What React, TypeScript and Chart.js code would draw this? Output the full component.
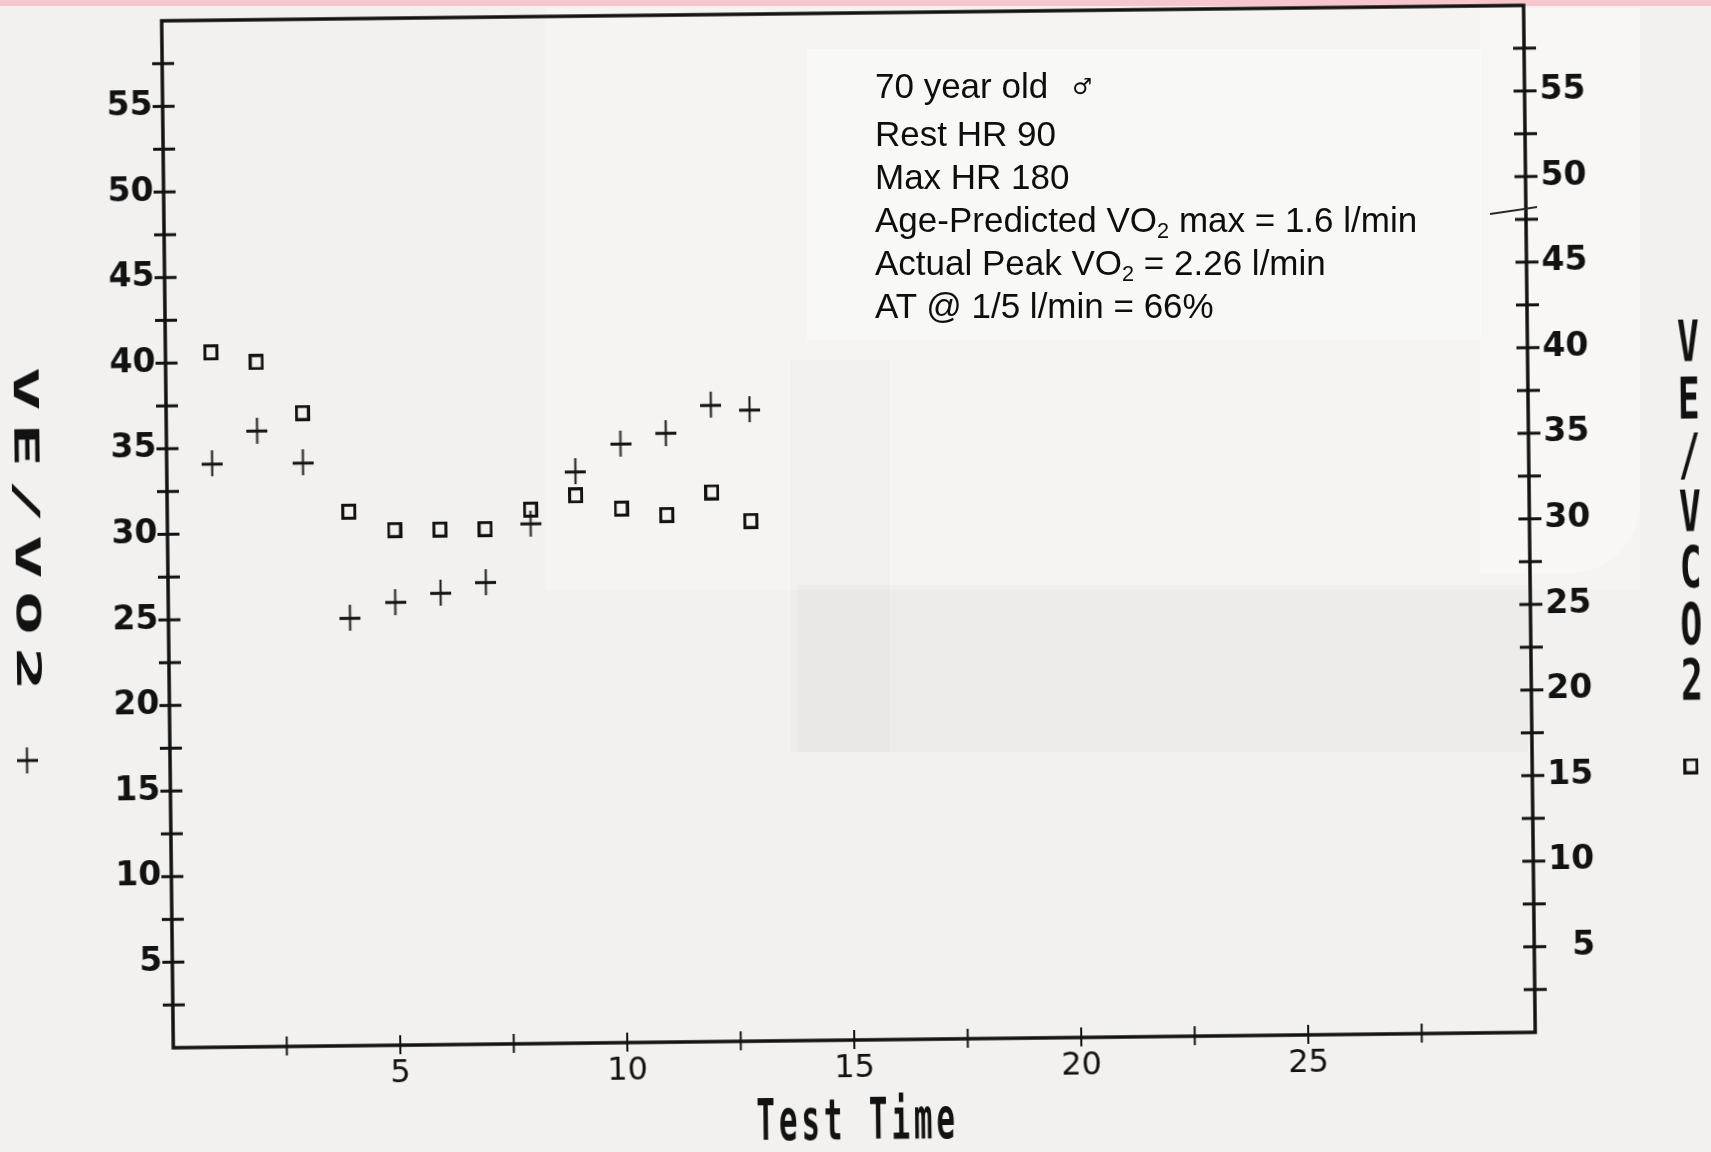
import React, { useEffect, useRef } from 'react';
import { Chart, registerables } from 'chart.js';

Chart.register(...registerables);

// Exercise test: ventilatory equivalents against test time (minutes)
const testTime = [1, 2, 3, 4, 5, 6, 7, 8, 9, 10, 11, 12, 12.85];
const veVo2 = [34.1, 36.0, 34.1, 25.0, 25.9, 26.4, 27.0, 30.4, 33.4, 35.0, 35.6, 37.2, 36.9];
const veVco2 = [40.6, 40.0, 37.0, 31.2, 30.1, 30.1, 30.1, 31.2, 32.0, 31.2, 30.8, 32.1, 30.4];

const xLabeledTicks = [5, 10, 15, 20, 25];
const yLabeledTicks = [5, 10, 15, 20, 25, 30, 35, 40, 45, 50, 55];
const X_RANGE = [0, 30];
const Y_RANGE = [0, 60];
const TICK_STEP = 2.5;

const leftTitle = 'VE/VO2';
const rightTitle = 'VE/VCO2';
const xTitle = 'Test Time';

type Seg = { t: string; sub?: boolean };
const noteLines: Seg[][] = [
  [{ t: '70 year old' }],
  [{ t: 'Rest HR 90' }],
  [{ t: 'Max HR 180' }],
  [{ t: 'Age-Predicted VO' }, { t: '2', sub: true }, { t: ' max = 1.6 l/min' }],
  [{ t: 'Actual Peak VO' }, { t: '2', sub: true }, { t: ' = 2.26 l/min' }],
  [{ t: 'AT @ 1/5 l/min = 66%' }],
];

const INK = '#121212';
const PAPER = '#f2f1ef';
const MONO = '"DejaVu Sans Mono", "Liberation Mono", monospace';

function plusMarker(): HTMLCanvasElement {
  const c = document.createElement('canvas');
  c.width = 21;
  c.height = 26;
  const g = c.getContext('2d')!;
  g.fillStyle = INK;
  g.fillRect(0, 12, 21, 3);
  g.fillRect(9.5, 0, 2, 26);
  return c;
}

function squareMarker(): HTMLCanvasElement {
  const c = document.createElement('canvas');
  c.width = 15;
  c.height = 16;
  const g = c.getContext('2d')!;
  g.strokeStyle = INK;
  g.lineWidth = 3;
  g.strokeRect(1.5, 1.5, 12, 13);
  return c;
}

// one printer glyph stretched into a w x h box centred on (x, y)
function glyph(ctx: CanvasRenderingContext2D, ch: string, x: number, y: number, w: number, h: number, weight = 'bold') {
  if (ch === ' ') return;
  const f = 40;
  ctx.save();
  ctx.font = `${weight} ${f}px ${MONO}`;
  ctx.textAlign = 'center';
  ctx.textBaseline = 'alphabetic';
  ctx.fillStyle = INK;
  ctx.translate(x, y + h / 2);
  ctx.scale(w / (0.55 * f), h / (0.73 * f));
  ctx.fillText(ch, 0, 0);
  ctx.restore();
}

const printerFrame = {
  id: 'printerFrame',
  afterDraw(chart: any) {
    const { ctx, chartArea: a, scales } = chart;
    ctx.save();
    ctx.strokeStyle = INK;
    ctx.lineWidth = 3.5;
    ctx.strokeRect(a.left, a.top, a.right - a.left, a.bottom - a.top);

    const seg = (x1: number, y1: number, x2: number, y2: number) => {
      ctx.beginPath();
      ctx.moveTo(x1, y1);
      ctx.lineTo(x2, y2);
      ctx.stroke();
    };
    ctx.lineWidth = 3;
    for (const t of scales.y.ticks) {
      if (t.value <= Y_RANGE[0] || t.value >= Y_RANGE[1]) continue;
      const py = scales.y.getPixelForValue(t.value);
      seg(a.left - 10, py, a.left + 12, py);
    }
    for (const t of scales.y2.ticks) {
      if (t.value <= Y_RANGE[0] || t.value >= Y_RANGE[1]) continue;
      const py = scales.y2.getPixelForValue(t.value);
      seg(a.right - 11, py, a.right + 12, py);
    }
    ctx.lineWidth = 2;
    for (const t of scales.x.ticks) {
      if (t.value <= X_RANGE[0] || t.value >= X_RANGE[1]) continue;
      const px = scales.x.getPixelForValue(t.value);
      seg(px, a.bottom - 10, px, a.bottom + 9);
    }

    // left title, printed sideways
    ctx.save();
    ctx.translate(27.5, 519.6);
    ctx.rotate(Math.PI / 2);
    const nl = leftTitle.length;
    for (let i = 0; i < nl; i++) glyph(ctx, leftTitle[i], (i - (nl - 1) / 2) * 56, 0, 40, 24);
    ctx.restore();

    // right title, stacked letters
    const nr = rightTitle.length;
    for (let i = 0; i < nr; i++) glyph(ctx, rightTitle[i], 1690.7, 519.5 + (i - (nr - 1) / 2) * 56.5, 20, 42);

    // x title
    const nx = xTitle.length;
    for (let i = 0; i < nx; i++) glyph(ctx, xTitle[i], 849.5 + (i - (nx - 1) / 2) * 22.5, 1118, 17, 42);

    // series keys
    const p = chart.data.datasets[0].pointStyle as HTMLCanvasElement;
    const s = chart.data.datasets[1].pointStyle as HTMLCanvasElement;
    ctx.drawImage(p, 25 - p.width / 2, 750.6 - p.height / 2);
    ctx.drawImage(s, 1688.8 - s.width / 2, 775.5 - s.height / 2);
    ctx.restore();
  },
};

const tapes: { l: number; t: number; w: number; h: number; bg: string; r?: string }[] = [
  { l: 546, t: 8, w: 1094, h: 582, bg: 'rgba(255,255,255,0.22)' },
  { l: 1480, t: 8, w: 160, h: 565, bg: 'rgba(255,255,255,0.28)', r: '0 0 70px 0' },
  { l: 797, t: 585, w: 731, h: 167, bg: 'rgba(0,0,0,0.018)' },
  { l: 790, t: 360, w: 100, h: 392, bg: 'rgba(0,0,0,0.014)' },
  { l: 807, t: 49, w: 674, h: 291, bg: 'rgba(255,255,255,0.35)' },
];

export default function App() {
  const ref = useRef<HTMLCanvasElement | null>(null);

  useEffect(() => {
    if (!ref.current) return;
    const tickFont = { family: '"DejaVu Sans", sans-serif', size: 33, weight: 'bold' as const };
    const yTicks = (right: boolean) => ({
      stepSize: TICK_STEP,
      autoSkip: false,
      color: INK,
      font: tickFont,
      padding: right ? 15 : 10,
      callback: (v: any) =>
        yLabeledTicks.includes(Number(v)) ? (right && v < 10 ? '\u2007' + v : String(v)) : '',
    });
    const chart = new Chart(ref.current, {
      type: 'scatter',
      data: {
        datasets: [
          {
            label: leftTitle,
            data: testTime.map((t, i) => ({ x: t, y: veVo2[i] })),
            yAxisID: 'y',
            pointStyle: plusMarker() as any,
            pointRadius: 12,
          },
          {
            label: rightTitle,
            data: testTime.map((t, i) => ({ x: t, y: veVco2[i] })),
            yAxisID: 'y2',
            pointStyle: squareMarker() as any,
            pointRadius: 8,
          },
        ],
      },
      options: {
        responsive: false,
        animation: false,
        devicePixelRatio: 1,
        events: [],
        layout: { padding: { top: 7, left: 0, right: 0, bottom: 0 } },
        plugins: { legend: { display: false }, tooltip: { enabled: false } },
        scales: {
          x: {
            type: 'linear',
            min: X_RANGE[0],
            max: X_RANGE[1],
            grid: { display: false, drawTicks: false },
            border: { display: false },
            ticks: {
              stepSize: TICK_STEP,
              autoSkip: false,
              maxRotation: 0,
              color: INK,
              padding: 9,
              font: { family: '"DejaVu Sans", sans-serif', size: 32 },
              callback: (v: any) => (xLabeledTicks.includes(Number(v)) ? String(v) : ''),
            },
            afterFit: (s: any) => {
              s.height = 112;
              s.paddingLeft = 0;
              s.paddingRight = 0;
            },
          },
          y: {
            type: 'linear',
            position: 'left',
            min: Y_RANGE[0],
            max: Y_RANGE[1],
            grid: { display: false, drawTicks: false },
            border: { display: false },
            ticks: yTicks(false),
            afterFit: (s: any) => {
              s.width = 168;
              s.paddingTop = 0;
              s.paddingBottom = 0;
            },
          },
          y2: {
            type: 'linear',
            position: 'right',
            min: Y_RANGE[0],
            max: Y_RANGE[1],
            grid: { display: false, drawTicks: false },
            border: { display: false },
            ticks: yTicks(true),
            afterFit: (s: any) => {
              s.width = 181;
              s.paddingTop = 0;
              s.paddingBottom = 0;
            },
          },
        },
      } as any,
      plugins: [printerFrame],
    });
    return () => chart.destroy();
  }, []);

  return (
    <div
      style={{
        position: 'absolute',
        left: 0,
        top: 0,
        width: 1711,
        height: 1152,
        background: PAPER,
        overflow: 'hidden',
      }}
    >
      <div style={{ position: 'absolute', left: 0, top: 0, width: 1711, height: 6, background: '#f7c6cd' }} />
      {tapes.map((r, i) => (
        <div
          key={i}
          style={{
            position: 'absolute',
            left: r.l,
            top: r.t,
            width: r.w,
            height: r.h,
            background: r.bg,
            borderRadius: r.r || 0,
          }}
        />
      ))}
      <canvas
        ref={ref}
        width={1711}
        height={1152}
        style={{
          position: 'absolute',
          left: 0,
          top: 0,
          width: 1711,
          height: 1152,
          transform: 'rotate(-0.65deg)',
          transformOrigin: '855.5px 576px',
        }}
      />
      <div
        style={{
          position: 'absolute',
          left: 875,
          top: 64,
          fontFamily: '"Liberation Sans", Arial, sans-serif',
          fontSize: 35,
          lineHeight: '43px',
          color: '#0e0e0e',
          whiteSpace: 'pre',
        }}
      >
        {noteLines.map((line, i) => (
          <div key={i}>
            {line.map((sg, j) =>
              sg.sub ? (
                <span key={j} style={{ fontSize: '0.62em', position: 'relative', top: '0.28em', lineHeight: 0 }}>
                  {sg.t}
                </span>
              ) : (
                <span key={j}>{sg.t}</span>
              )
            )}
            {i === 0 ? (
              <span style={{ fontFamily: '"DejaVu Sans", sans-serif', fontSize: 22, marginLeft: 24, position: 'relative', top: -4 }}>
                ♂
              </span>
            ) : null}
          </div>
        ))}
      </div>
      <svg width={1711} height={1152} style={{ position: 'absolute', left: 0, top: 0, pointerEvents: 'none' }}>
        <line x1={1490} y1={214} x2={1537} y2={207} stroke="#2a2a2a" strokeWidth={2} />
      </svg>
    </div>
  );
}
